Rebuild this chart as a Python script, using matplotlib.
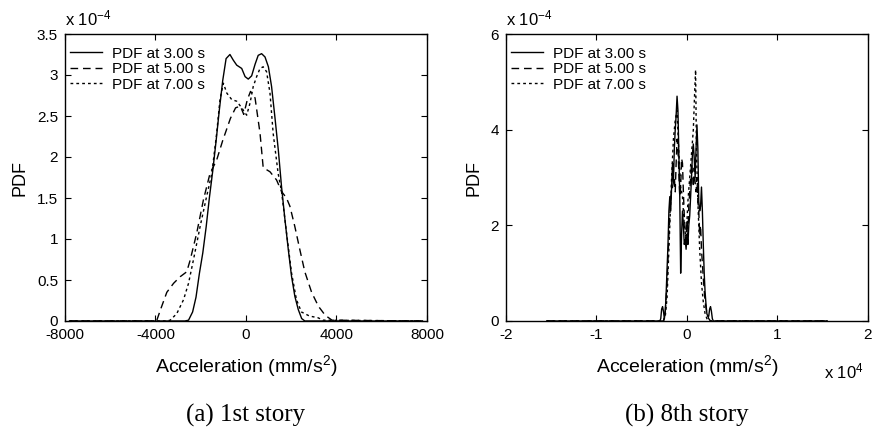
import matplotlib
matplotlib.use("Agg")
import matplotlib.pyplot as plt

plt.rcParams['font.family'] = ['Liberation Sans', 'DejaVu Sans']
plt.rcParams['mathtext.fontset'] = 'custom'
plt.rcParams['mathtext.rm'] = 'Liberation Sans'
plt.rcParams['mathtext.it'] = 'Liberation Sans:italic'
plt.rcParams['mathtext.bf'] = 'Liberation Sans:bold'

# ---- 1st story: acceleration (mm/s^2) and PDF (x 1e-4) ----
acc1_3s = [-7800, -2700, -2540, -2360, -2210, -2060, -1910, -1760, -1620, -1470,
           -1320, -1180, -1030, -880, -710, -560, -410, -190, -40, 100,
           250, 400, 540, 690, 840, 990, 1130, 1280, 1430, 1570,
           1720, 1870, 2010, 2160, 2310, 2460, 2600, 7800]
pdf1_3s = [0.0, 0.0, 0.01, 0.11, 0.29, 0.58, 0.83, 1.15, 1.50, 1.83,
           2.20, 2.57, 2.93, 3.20, 3.25, 3.18, 3.12, 3.08, 2.98, 2.95,
           2.99, 3.13, 3.24, 3.26, 3.22, 3.10, 2.86, 2.48, 2.08, 1.64,
           1.24, 0.87, 0.55, 0.30, 0.14, 0.03, 0.0, 0.0]

acc1_5s = [-7800, -4100, -3940, -3790, -3500, -3200, -2910, -2620, -2470, -2180,
           -1880, -1590, -1300, -1030, -690, -460, -250, -100, 60, 200,
           400, 620, 760, 1060, 1350, 1570, 1790, 1940, 2160, 2380,
           2600, 2900, 3200, 3500, 3800, 7800]
pdf1_5s = [0.0, 0.0, 0.01, 0.13, 0.35, 0.46, 0.54, 0.60, 0.74, 1.07,
           1.48, 1.80, 1.96, 2.20, 2.47, 2.60, 2.62, 2.52, 2.70, 2.80,
           2.72, 2.29, 1.87, 1.82, 1.72, 1.58, 1.50, 1.40, 1.15, 0.87,
           0.60, 0.35, 0.18, 0.07, 0.01, 0.0]

acc1_7s = [-7800, -3500, -3350, -3060, -2760, -2540, -2320, -2030, -1740, -1510,
           -1300, -1150, -1000, -850, -630, -410, -190, 30, 180, 320,
           470, 620, 760, 910, 1060, 1200, 1420, 1570, 1790, 2010,
           2230, 2450, 2810, 3180, 3400, 7800]
pdf1_7s = [0.0, 0.0, 0.01, 0.09, 0.26, 0.46, 0.75, 1.15, 1.52, 1.80,
           2.28, 2.70, 2.90, 2.78, 2.70, 2.68, 2.60, 2.51, 2.66, 2.86,
           2.98, 3.08, 3.10, 3.04, 2.78, 2.29, 1.80, 1.58, 1.08, 0.59,
           0.26, 0.11, 0.06, 0.04, 0.01, 0.0]

# ---- 8th story: acceleration (mm/s^2) and PDF (x 1e-4) ----
acc8_3s = [-15500, -3000, -2900, -2800, -2700, -2600, -2500, -2400, -2300, -2200,
           -2100, -2000, -1900, -1800, -1700, -1600, -1500, -1400, -1300, -1200,
           -1100, -1000, -900, -800, -700, -600, -500, -400, -300, -200,
           -100, 0, 100, 200, 300, 400, 500, 600, 700, 800,
           900, 1000, 1100, 1200, 1300, 1400, 1500, 1600, 1700, 1800,
           1900, 2000, 2100, 2200, 2300, 2400, 2500, 2600, 2700, 2800,
           2900, 15500]
pdf8_3s = [0.0, 0.0, 0.05, 0.25, 0.30, 0.20, 0.05, 0.20, 0.60, 1.10,
           1.60, 2.30, 2.60, 2.30, 2.80, 3.30, 2.90, 3.60, 4.00, 4.30,
           4.70, 4.40, 3.50, 2.60, 1.00, 1.80, 2.30, 2.00, 1.60, 1.70,
           1.50, 1.80, 1.60, 2.00, 2.20, 2.60, 3.00, 3.50, 3.70, 3.40,
           3.00, 3.60, 4.10, 3.60, 2.50, 2.30, 2.40, 2.80, 2.30, 1.60,
           1.00, 0.60, 0.35, 0.15, 0.10, 0.10, 0.25, 0.30, 0.20, 0.05,
           0.0, 0.0]

acc8_5s = [-15500, -2600, -2400, -2200, -2000, -1800, -1600, -1400, -1300, -1200,
           -1100, -1000, -900, -800, -700, -600, -500, -400, -300, -200,
           -100, 0, 100, 200, 300, 400, 500, 600, 700, 800,
           900, 1000, 1100, 1200, 1300, 1400, 1500, 1600, 1700, 1800,
           1900, 2000, 2200, 2400, 2600, 15500]
pdf8_5s = [0.0, 0.0, 0.20, 0.80, 1.80, 2.60, 2.80, 3.00, 2.70, 3.30,
           3.80, 3.60, 3.10, 2.60, 2.80, 3.40, 3.30, 2.70, 2.20, 1.90,
           1.70, 2.10, 1.80, 2.40, 2.70, 3.00, 3.30, 3.10, 2.80, 3.20,
           2.90, 2.70, 3.00, 2.50, 2.30, 1.80, 2.00, 1.50, 1.20, 0.90,
           0.65, 0.40, 0.16, 0.05, 0.0, 0.0]

acc8_7s = [-15500, -2600, -2400, -2200, -2100, -1900, -1700, -1500, -1300, -1100,
           -900, -700, -500, -300, -100, 100, 300, 500, 700, 850,
           950, 1050, 1200, 1400, 1600, 1800, 2000, 2200, 2400, 15500]
pdf8_7s = [0.0, 0.0, 0.10, 0.50, 1.00, 2.00, 3.00, 3.80, 4.20, 4.40,
           3.50, 2.80, 2.60, 2.00, 1.70, 2.50, 3.00, 3.50, 4.00, 4.80,
           5.25, 3.50, 2.50, 1.50, 0.80, 0.40, 0.15, 0.05, 0.0, 0.0]

legend_labels = ['PDF at 3.00 s', 'PDF at 5.00 s', 'PDF at 7.00 s']

# panel (a)
xlim_a = (-8000, 8000)
xticks_a = [-8000, -4000, 0, 4000, 8000]
ylim_a = (0, 3.5)
yticks_a = [0, 0.5, 1, 1.5, 2, 2.5, 3, 3.5]
yticklabels_a = ['0', '0.5', '1', '1.5', '2', '2.5', '3', '3.5']

# panel (b), x axis shown in units of 1e4
xlim_b = (-20000, 20000)
xticks_b = [-20000, -10000, 0, 10000, 20000]
xticklabels_b = ['-2', '-1', '0', '1', '2']
ylim_b = (0, 6)
yticks_b = [0, 2, 4, 6]

W, H = 878, 433
fig = plt.figure(figsize=(W / 100, H / 100), dpi=100)
ax_a = fig.add_axes([65 / W, 1 - 321 / H, 362 / W, 287 / H])
ax_b = fig.add_axes([506 / W, 1 - 321 / H, 362 / W, 287 / H])

styles = [dict(linestyle='-'),
          dict(linestyle=(0, (5.5, 3.5))),
          dict(linestyle=(0, (2, 2.2)))]


def draw(ax, series):
    for (x, y), st, lab in zip(series, styles, legend_labels):
        ax.plot(x, y, color='black', linewidth=1.0, label=lab, **st)
    for s in ax.spines.values():
        s.set_linewidth(1.0)
    ax.tick_params(direction='in', top=True, right=True, length=4,
                   width=0.8, labelsize=11, pad=5)
    ax.set_ylabel('PDF', fontsize=13, labelpad=6)
    ax.set_xlabel('Acceleration (mm/s$^2$)', fontsize=14, labelpad=8)
    ax.legend(loc='upper left', frameon=False, fontsize=11,
              handlelength=2.1, handletextpad=0.65, labelspacing=0.1,
              borderaxespad=0.0, borderpad=0.35,
              bbox_to_anchor=(0.0, 0.975))


draw(ax_a, [(acc1_3s, pdf1_3s), (acc1_5s, pdf1_5s), (acc1_7s, pdf1_7s)])
ax_a.set_xlim(*xlim_a)
ax_a.set_xticks(xticks_a)
ax_a.set_xticklabels([str(v) for v in xticks_a])
ax_a.set_ylim(*ylim_a)
ax_a.set_yticks(yticks_a)
ax_a.set_yticklabels(yticklabels_a)

draw(ax_b, [(acc8_3s, pdf8_3s), (acc8_5s, pdf8_5s), (acc8_7s, pdf8_7s)])
ax_b.set_xlim(*xlim_b)
ax_b.set_xticks(xticks_b)
ax_b.set_xticklabels(xticklabels_b)
ax_b.set_ylim(*ylim_b)
ax_b.set_yticks(yticks_b)
ax_b.set_yticklabels([str(v) for v in yticks_b])

# exponent annotations in the MATLAB style
for ax in (ax_a, ax_b):
    ax.text(0.0, 1.02, r'x 10$^{-4}$', transform=ax.transAxes,
            fontsize=12, ha='left', va='bottom')
fig.text(864 / W, 1 - 378 / H, r'x 10$^{4}$', fontsize=12,
         ha='right', va='baseline')

# panel captions
fig.text((65 + 427) / 2 / W, 1 - 415 / H, '(a) 1st story', fontsize=18,
         family='Liberation Serif', ha='center', va='center')
fig.text((506 + 868) / 2 / W, 1 - 415 / H, '(b) 8th story', fontsize=18,
         family='Liberation Serif', ha='center', va='center')

fig.savefig('out.png', dpi=100)
